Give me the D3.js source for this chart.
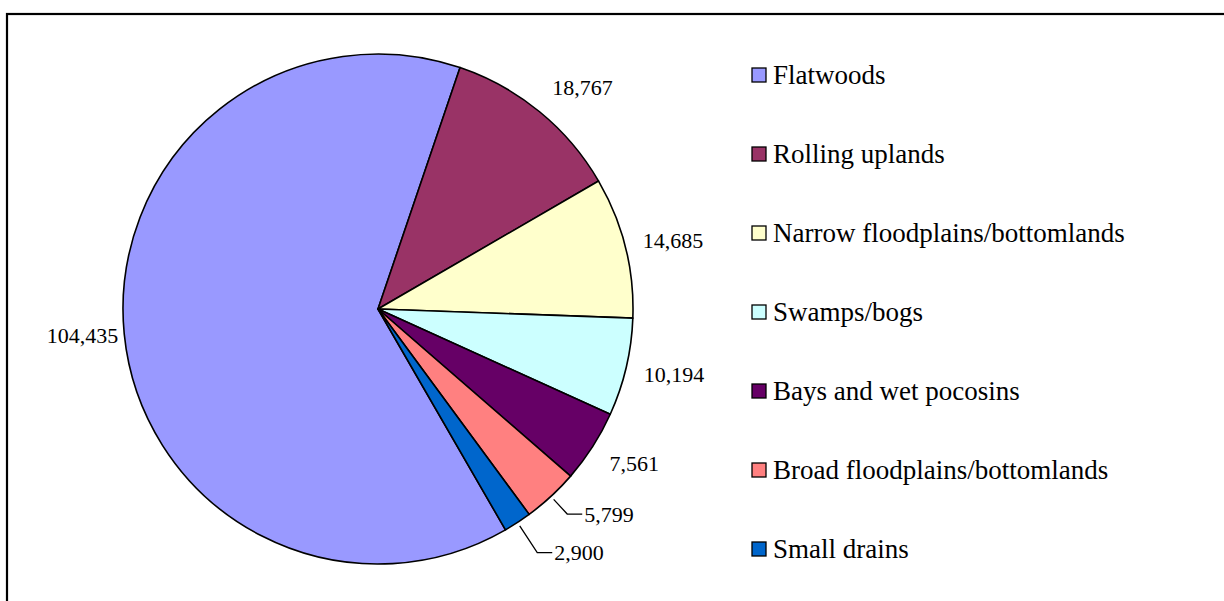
<!DOCTYPE html>
<html>
<head>
<meta charset="utf-8">
<script src="https://cdn.jsdelivr.net/npm/d3@7"></script>
<style>
  html, body { margin: 0; padding: 0; background: #fff; }
  svg { display: block; }
  text { font-family: "Liberation Serif", "Times New Roman", serif; fill: #000; }
</style>
</head>
<body>
<svg id="chart" width="1224" height="601"></svg>
<script>
// ---- data ----
const categories = [
  "Flatwoods",
  "Rolling uplands",
  "Narrow floodplains/bottomlands",
  "Swamps/bogs",
  "Bays and wet pocosins",
  "Broad floodplains/bottomlands",
  "Small drains"
];
const values = [104435, 18767, 14685, 10194, 7561, 5799, 2900];
const colors = ["#9999FF", "#993366", "#FFFFCC", "#CCFFFF", "#660066", "#FF8080", "#0066CC"];

// ---- label layout config (styling, not data) ----
const labelOffsets = [6, 20, 18, 18, 20, 24, 36];
const useLeader = [false, false, false, false, false, true, true];

const W = 1224, H = 601;
const svg = d3.select("#chart");

// frame
svg.append("rect")
  .attr("x", 7).attr("y", 14)
  .attr("width", W + 20).attr("height", H + 20)
  .attr("fill", "none").attr("stroke", "#000").attr("stroke-width", 2.2);

const cx = 378, cy = 309, R = 255;
const startAngle = 150 * Math.PI / 180;

const pie = d3.pie().sort(null).value(d => d)
  .startAngle(startAngle).endAngle(startAngle + 2 * Math.PI);
const arcs = pie(values);
const arc = d3.arc().innerRadius(0).outerRadius(R);

const g = svg.append("g").attr("transform", `translate(${cx},${cy})`);
g.selectAll("path.slice").data(arcs).enter().append("path")
  .attr("class", "slice")
  .attr("d", arc)
  .attr("fill", (d, i) => colors[i])
  .attr("stroke", "#000").attr("stroke-width", 1.6)
  .attr("stroke-linejoin", "round");

const fmt = d3.format(",");
const labelFont = 22;

arcs.forEach((d, i) => {
  const a = (d.startAngle + d.endAngle) / 2;
  const s = Math.sin(a), c = -Math.cos(a);
  const label = fmt(values[i]);
  if (useLeader[i]) {
    const p0 = [ (R + 4) * s, (R + 4) * c ];
    const p1 = [ (R + labelOffsets[i]) * s, (R + labelOffsets[i]) * c ];
    const p2 = [ p1[0] + 15, p1[1] ];
    g.append("polyline")
      .attr("points", [p0, p1, p2].map(p => p.join(",")).join(" "))
      .attr("fill", "none").attr("stroke", "#000").attr("stroke-width", 1.3);
    g.append("text")
      .attr("x", p2[0] + 2).attr("y", p2[1])
      .attr("dy", "0.35em")
      .attr("font-size", labelFont)
      .attr("text-anchor", "start")
      .text(label);
  } else {
    const r2 = R + labelOffsets[i];
    const px = r2 * s, py = r2 * c;
    const t = g.append("text")
      .attr("font-size", labelFont)
      .text(label);
    const w = t.node().getBBox().width, h = labelFont;
    const ccx = px + (w / 2) * Math.sign(s);
    const ccy = py + (h / 2) * c;
    t.attr("x", ccx).attr("y", ccy).attr("dy", "0.35em").attr("text-anchor", "middle");
  }
});

// legend
const legendFont = 27;
const legendX = 752, legendY0 = 75, legendStep = 79, box = 14;
const lg = svg.append("g");
categories.forEach((name, i) => {
  const y = legendY0 + i * legendStep;
  lg.append("rect")
    .attr("x", legendX).attr("y", y - box / 2)
    .attr("width", box).attr("height", box)
    .attr("fill", colors[i]).attr("stroke", "#000").attr("stroke-width", 1.3);
  lg.append("text")
    .attr("x", legendX + box + 7).attr("y", y)
    .attr("dy", "0.35em")
    .attr("font-size", legendFont)
    .text(name);
});
</script>
</body>
</html>
